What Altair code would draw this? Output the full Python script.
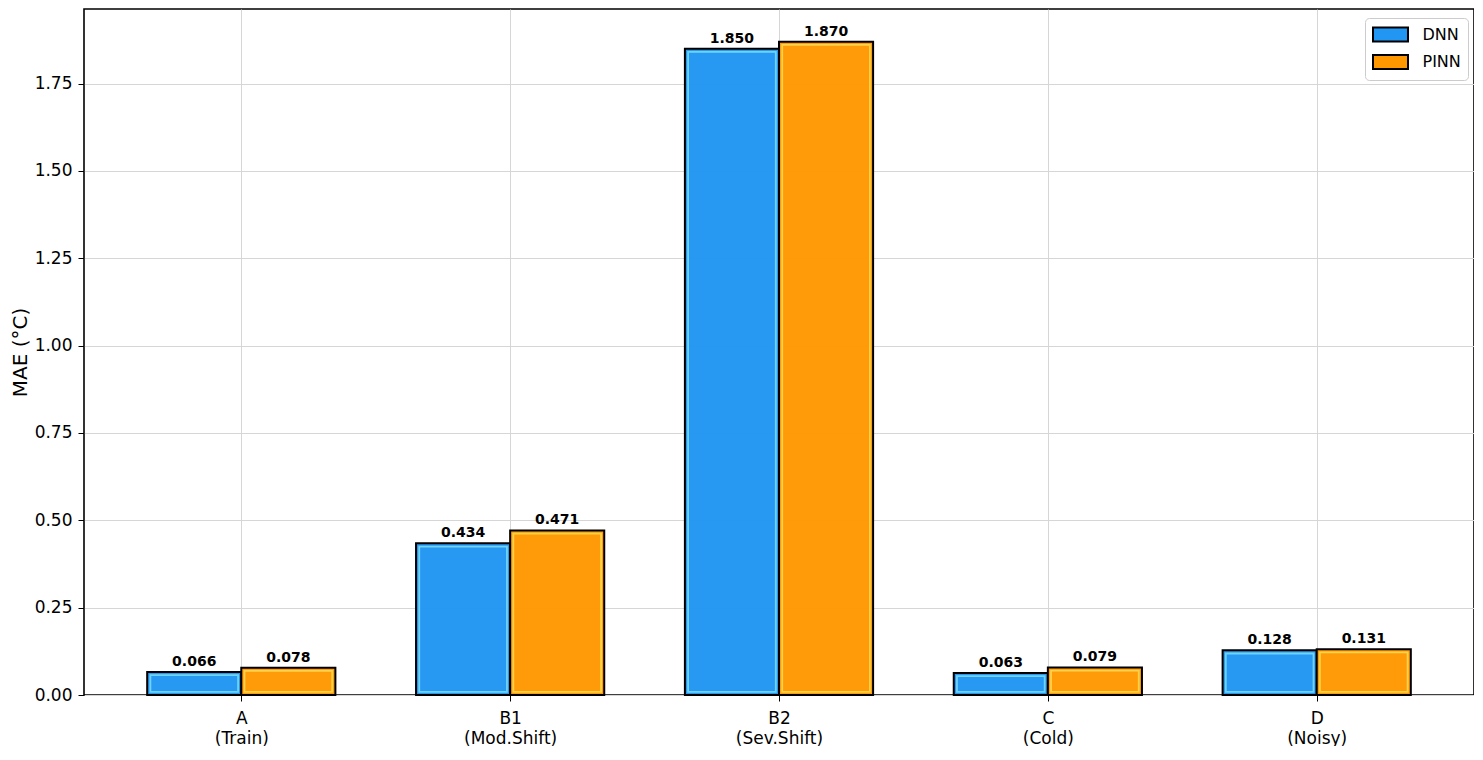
import json
import altair as alt
import pandas as pd

codes = ["A", "B1", "B2", "C", "D"]
descs = ["(Train)", "(Mod.Shift)", "(Sev.Shift)", "(Cold)", "(Noisy)"]
models = ["DNN", "PINN"]
dnn_mae = [0.066, 0.434, 1.850, 0.063, 0.128]
pinn_mae = [0.078, 0.471, 1.870, 0.079, 0.131]
y_ticks = [0.0, 0.25, 0.5, 0.75, 1.0, 1.25, 1.5, 1.75]

fill_colors = ["#2196F3", "#FF9800"]
inner_colors = ["#6FD3FA", "#FFD24A"]
BAR_W = 0.35

rows = []
for i, c in enumerate(codes):
    rows.append({"idx": i, "model": "DNN", "side": -1, "mae": dnn_mae[i]})
    rows.append({"idx": i, "model": "PINN", "side": 1, "mae": pinn_mae[i]})
df = pd.DataFrame(rows)

FONT = "DejaVu Sans"

x_scale = alt.Scale(domain=[-0.585, 4.585], nice=False, zero=False)
y_scale = alt.Scale(domain=[0, 1.9635], nice=False, zero=True)

label_expr = f"[{json.dumps(codes)}[datum.value], {json.dumps(descs)}[datum.value]]"

base = alt.Chart(df).transform_calculate(
    xc=f"datum.idx + datum.side * {BAR_W / 2}",
).transform_calculate(
    x0=f"datum.xc - {BAR_W / 2}",
    x1=f"datum.xc + {BAR_W / 2}",
)

color = alt.Color(
    "model:N",
    sort=models,
    scale=alt.Scale(domain=models, range=fill_colors),
    legend=alt.Legend(
        title=None,
        orient="none",
        legendX=1281,
        legendY=9,
        fillColor="white",
        strokeColor="#cccccc",
        cornerRadius=4,
        padding=6.5,
        labelFontSize=16,
        labelFont=FONT,
        labelColor="black",
        symbolOffset=9,
        labelOffset=22,
        symbolType="M-2,-0.8H2V0.8H-2Z",
        symbolSize=306,
        symbolStrokeColor="black",
        symbolStrokeWidth=2,
        symbolOpacity=1,
        rowPadding=5.5,
    ),
)

bars = base.mark_bar(stroke="black", strokeWidth=2, fillOpacity=0.97).encode(
    x=alt.X(
        "x0:Q",
        scale=x_scale,
        axis=alt.Axis(
            title=None,
            values=[0, 1, 2, 3, 4],
            labelExpr=label_expr,
            grid=True,
            labelFontSize=17,
            labelLineHeight=20,
            labelPadding=9,
            tickSize=6,
            labelBaseline="top",
            labelFlush=False,
            labelOverlap=False,
        ),
    ),
    x2="x1:Q",
    y=alt.Y(
        "mae:Q",
        scale=y_scale,
        axis=alt.Axis(
            title="MAE (°C)",
            values=y_ticks,
            format=".2f",
            labelFontSize=17,
            titleFontSize=20,
            titleFontWeight="normal",
            titlePadding=4,
            tickSize=6,
            labelPadding=6,
            grid=True,
        ),
    ),
    y2=alt.datum(0),
    color=color,
)

inner = base.mark_bar(
    fillOpacity=0, strokeWidth=1.8, xOffset=3.2, x2Offset=-3.2, yOffset=3.2, y2Offset=-3.2
).encode(
    x=alt.X("x0:Q", scale=x_scale),
    x2="x1:Q",
    y=alt.Y("mae:Q", scale=y_scale),
    y2=alt.datum(0),
    stroke=alt.Stroke("model:N", sort=models,
                      scale=alt.Scale(domain=models, range=inner_colors), legend=None),
)

labels = base.mark_text(
    font=FONT, fontSize=14, fontWeight="bold", baseline="bottom", dy=-3, color="black"
).encode(
    x=alt.X("xc:Q", scale=x_scale),
    y=alt.Y("mae:Q", scale=y_scale),
    text=alt.Text("mae:Q", format=".3f"),
)

chart = alt.layer(bars, inner, labels).resolve_scale(stroke="independent").properties(
    width=1390, height=686, padding={"left": 2, "top": 1, "right": 0, "bottom": 0}
).configure(
    background="white"
).configure_view(
    stroke="black", strokeWidth=1.6
).configure_axis(
    labelFont=FONT, titleFont=FONT, labelColor="black", titleColor="black",
    tickColor="black", domain=False, gridColor="#d6d6d6", gridWidth=1,
)

chart.save("out.html", embed_options={"renderer": "svg", "actions": False})
